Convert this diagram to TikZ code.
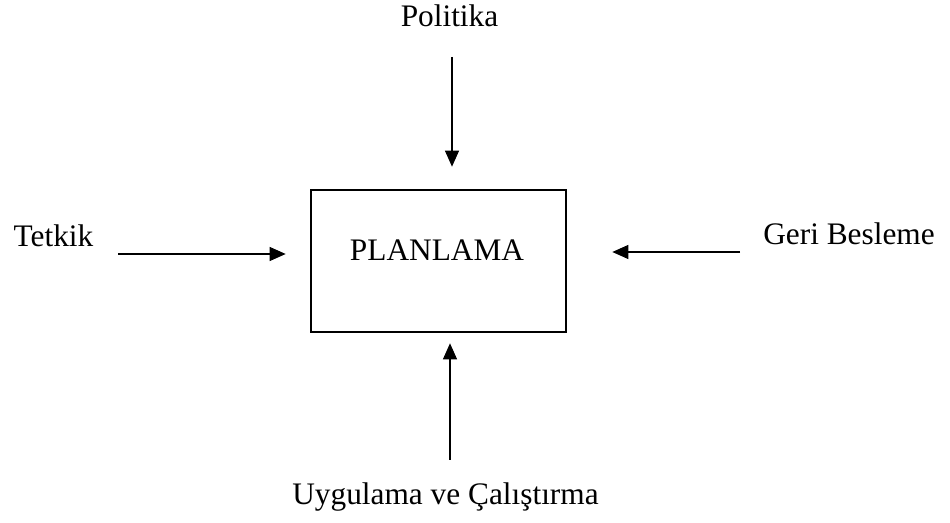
\documentclass[tikz,border=0pt]{standalone}
\usepackage{fontspec}
\setmainfont{Liberation Serif}
\usetikzlibrary{arrows.meta}
\begin{document}
\begin{tikzpicture}[x=0.75pt,y=-0.75pt,
  font=\fontsize{23.5}{28}\selectfont,
  lbl/.style={anchor=base,inner sep=0pt},
  conn/.style={line width=0.8pt,-{Triangle[length=12pt,width=10.5pt]}},
  boxst/.style={draw,line width=2pt,minimum width=191.25pt,minimum height=106.5pt,inner sep=0pt}]
\useasboundingbox (0,0) rectangle (950,523);
\node[boxst] (plan) at (438.5,261) {};
\node[lbl] (plantext) at (437,261) {PLANLAMA};
\node[lbl] (pol) at (449.5,27) {Politika};
\node[lbl] (tet) at (53.5,247) {Tetkik};
\node[lbl] (geri) at (849,245) {Geri Besleme};
\node[lbl] (uyg) at (445.5,505) {Uygulama ve Çalıştırma};
\coordinate (pstart) at (452,57);
\coordinate (tstart) at (118,254);
\coordinate (gstart) at (740,252);
\coordinate (ustart) at (450,460);
\draw[conn,shorten >=16.5pt] (pstart) -- (pstart |- plan.north);
\draw[conn,shorten >=18pt] (tstart) -- (tstart -| plan.west);
\draw[conn,shorten >=33.75pt] (gstart) -- (gstart -| plan.east);
\draw[conn,shorten >=7.5pt] (ustart) -- (ustart |- plan.south);
\end{tikzpicture}
\end{document}
